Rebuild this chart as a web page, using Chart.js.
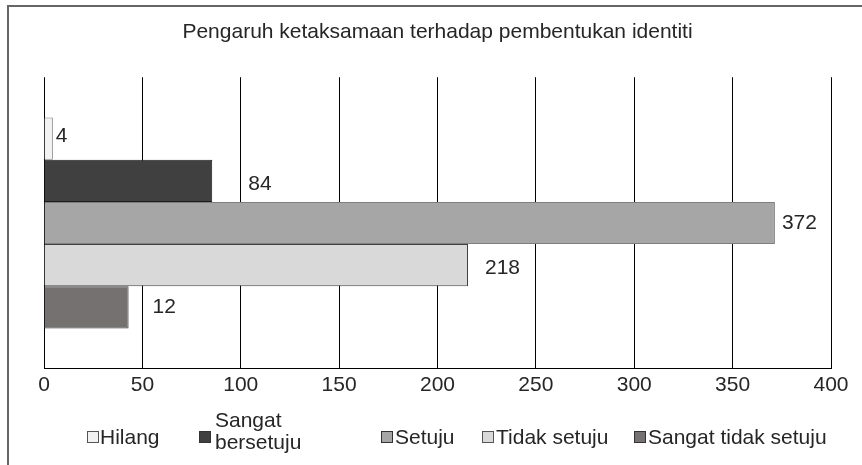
<!DOCTYPE html>
<html><head><meta charset="utf-8">
<script src="https://cdn.jsdelivr.net/npm/chart.js@4"></script>
<style>
html,body{margin:0;padding:0;background:#fff;}
#wrap{position:relative;width:862px;height:465px;overflow:hidden;font-family:"Liberation Sans",Arial,sans-serif;}
#frame{position:absolute;left:7px;top:5px;width:900px;height:500px;border-top:2px solid #666;border-left:2px solid #666;}
canvas{position:absolute;left:0;top:0;}
.leg{position:absolute;font-size:21px;color:#262626;line-height:22px;white-space:nowrap;}
.box{position:absolute;width:12px;height:12px;box-sizing:border-box;border:1px solid #555;}
</style></head>
<body>
<div id="wrap">
<div id="frame"></div>
<canvas id="c" width="862" height="465"></canvas>
<div id="legend"></div>
</div>
<script>
// ---- data ----
const categories = [''];
const seriesNames = ['Hilang', 'Sangat bersetuju', 'Setuju', 'Tidak setuju', 'Sangat tidak setuju'];
const barLengths = [4.5, 85.5, 371.5, 215.5, 43];
const valueLabels = ['4', '84', '372', '218', '12'];
const xTicks = [0, 50, 100, 150, 200, 250, 300, 350, 400];
const chartTitle = 'Pengaruh ketaksamaan terhadap pembentukan identiti';

// ---- style ----
const FONT = '"Liberation Sans", Arial, sans-serif';
const TEXT = '#262626';
const fills = ['#f2f2f2', '#404040', '#a6a6a6', '#d9d9d9', '#767171'];
const borders = ['#7f7f7f', '#1a1a1a', '#7f7f7f', '#404040', '#3f3f3f'];
const labelOffsets = [[3, -2], [36, 3.5], [7, 0], [17, 3], [24, 0]];
const legendPos = [
  {box: [87, 431], text: [100, 426]},
  {box: [199, 431], text: [215, 409], lines: ['Sangat', 'bersetuju']},
  {box: [381, 431], text: [395, 426]},
  {box: [482, 431], text: [496, 426]},
  {box: [634, 431], text: [648, 426]}
];

const labelPlugin = {
  id: 'valueLabels',
  afterDatasetsDraw(chart) {
    const ctx = chart.ctx;
    ctx.save();
    ctx.font = '21px ' + FONT;
    ctx.fillStyle = TEXT;
    ctx.textAlign = 'left';
    ctx.textBaseline = 'middle';
    chart.data.datasets.forEach((ds, i) => {
      const el = chart.getDatasetMeta(i).data[0];
      ctx.fillText(valueLabels[i], el.x + labelOffsets[i][0], el.y + labelOffsets[i][1]);
    });
    ctx.restore();
  }
};

new Chart(document.getElementById('c'), {
  type: 'bar',
  data: {
    labels: categories,
    datasets: seriesNames.map((n, i) => ({
      label: n,
      data: [barLengths[i]],
      backgroundColor: fills[i],
      borderColor: borders[i],
      borderWidth: 1,
      categoryPercentage: 0.723,
      barPercentage: 1
    }))
  },
  options: {
    indexAxis: 'y',
    responsive: false,
    animation: false,
    layout: {padding: {left: 44, right: 31, top: 0, bottom: 64}},
    plugins: {
      legend: {display: false},
      tooltip: {enabled: false},
      title: {
        display: true, text: chartTitle, color: TEXT,
        font: {family: FONT, size: 21, weight: 'normal'},
        padding: {top: 20, bottom: 32}
      }
    },
    scales: {
      x: {
        min: 0, max: 400,
        afterBuildTicks(scale) { scale.ticks = xTicks.map(v => ({value: v})); },
        ticks: {color: TEXT, font: {family: FONT, size: 21}, padding: 3.5, maxRotation: 0},
        grid: {color: '#000', lineWidth: 1, drawTicks: false},
        border: {color: '#000', width: 1}
      },
      y: {display: false}
    }
  },
  plugins: [labelPlugin]
});

// legend (HTML text)
const leg = document.getElementById('legend');
seriesNames.forEach((n, i) => {
  const p = legendPos[i];
  const b = document.createElement('div');
  b.className = 'box';
  b.style.left = p.box[0] + 'px'; b.style.top = p.box[1] + 'px';
  b.style.background = fills[i]; b.style.borderColor = i === 0 || i === 3 ? '#555' : '#333';
  leg.appendChild(b);
  const t = document.createElement('div');
  t.className = 'leg';
  t.style.left = p.text[0] + 'px'; t.style.top = p.text[1] + 'px';
  if (p.lines) t.innerHTML = p.lines.join('<br>'); else t.textContent = n;
  leg.appendChild(t);
});
</script>
</body></html>
